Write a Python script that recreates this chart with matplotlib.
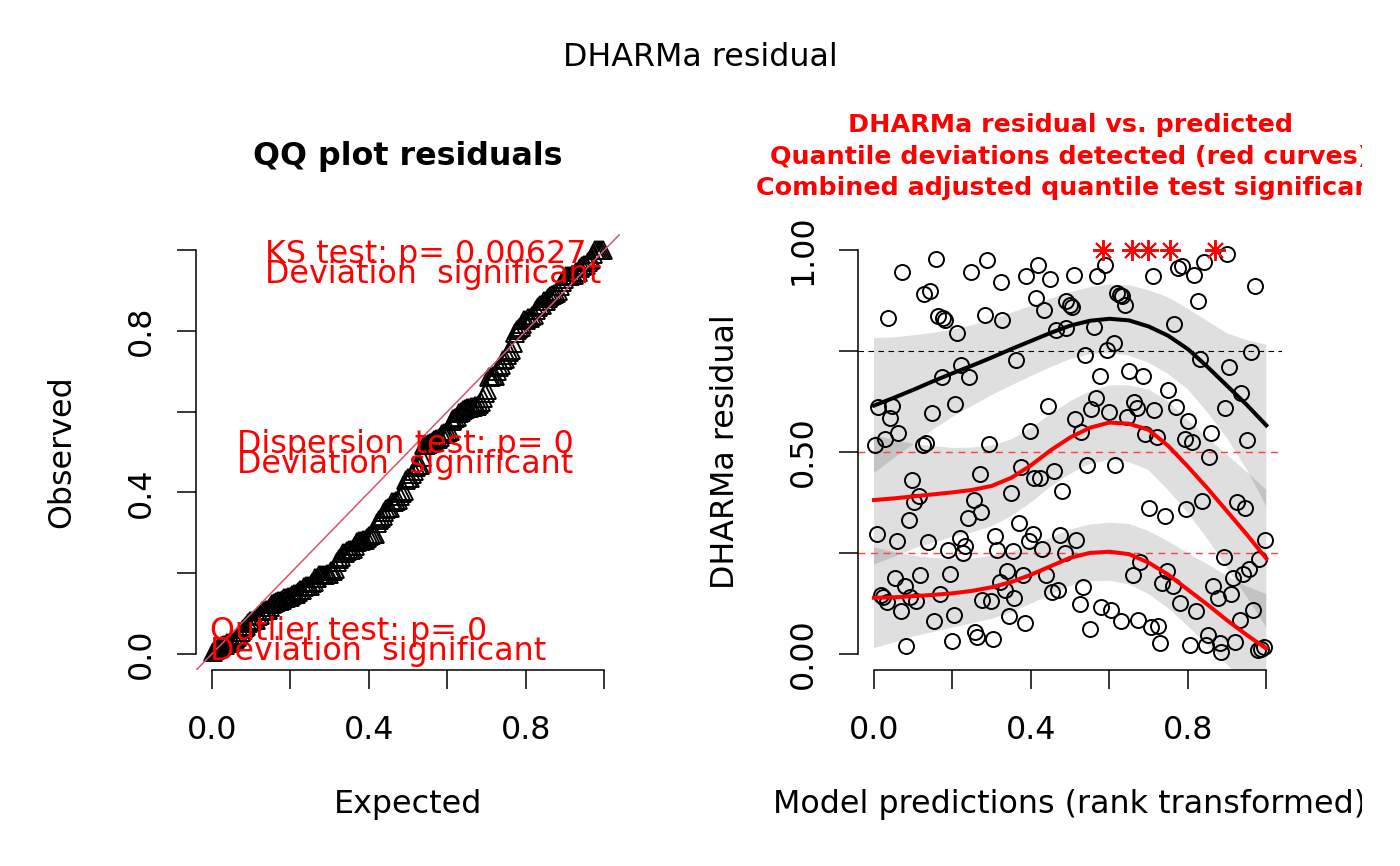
import numpy as np
import matplotlib
matplotlib.use("Agg")
import matplotlib.pyplot as plt
from matplotlib.transforms import Bbox, TransformedBbox

# residuals vs rank transformed predictions
pred_rank = [
    0.072, 0.157, 0.036, 0.127, 0.143, 0.162, 0.176, 0.182, 0.212, 0.248,
    0.288, 0.323, 0.282, 0.327, 0.388, 0.419, 0.448, 0.414, 0.433, 0.489,
    0.499, 0.504, 0.464, 0.489, 0.363, 0.222, 0.173, 0.242, 0.010, 0.047,
    0.042, 0.061, 0.027, 0.002, 0.148, 0.207, 0.125, 0.133, 0.293, 0.398,
    0.443,
    0.510, 0.569, 0.589, 0.711, 0.775, 0.785, 0.841, 0.900, 0.815, 0.971,
    0.825, 0.620, 0.626, 0.632, 0.640, 0.560, 0.764, 0.611, 0.594, 0.539,
    0.830, 0.960, 0.905, 0.575, 0.650, 0.685, 0.749, 0.936, 0.565, 0.554,
    0.600, 0.664, 0.671, 0.645, 0.715, 0.770, 0.895, 0.800, 0.513, 0.528,
    0.690, 0.722, 0.792, 0.810, 0.859, 0.950,
    0.098, 0.114, 0.102, 0.088, 0.008, 0.058, 0.138, 0.269, 0.374, 0.408,
    0.422, 0.459, 0.479, 0.348, 0.254, 0.273, 0.239, 0.369, 0.309, 0.218,
    0.233, 0.227, 0.189, 0.314, 0.354, 0.405, 0.394, 0.429, 0.473, 0.486,
    0.514, 0.053, 0.078, 0.118, 0.023, 0.017, 0.034, 0.091, 0.108, 0.068,
    0.167, 0.193, 0.153, 0.203, 0.082, 0.199, 0.257, 0.263, 0.303, 0.275,
    0.297, 0.320, 0.339, 0.333, 0.358, 0.380, 0.344, 0.384, 0.439, 0.454,
    0.469,
    0.543, 0.615, 0.855, 0.700, 0.741, 0.796, 0.836, 0.926, 0.946, 0.997,
    0.891, 0.981, 0.957, 0.940, 0.915, 0.679, 0.660, 0.746, 0.735, 0.762,
    0.865, 0.876, 0.910, 0.781, 0.821, 0.532, 0.524, 0.579, 0.605, 0.630,
    0.550, 0.674, 0.705, 0.725, 0.730, 0.806, 0.851, 0.847, 0.881, 0.885,
    0.921, 0.932, 0.966, 0.978, 0.987, 0.994,
]
resid = [
    0.945, 0.978, 0.831, 0.891, 0.899, 0.836, 0.832, 0.828, 0.795, 0.947,
    0.975, 0.922, 0.839, 0.827, 0.936, 0.963, 0.928, 0.881, 0.851, 0.874,
    0.864, 0.859, 0.803, 0.806, 0.728, 0.716, 0.686, 0.686, 0.611, 0.615,
    0.583, 0.547, 0.532, 0.517, 0.597, 0.619, 0.518, 0.522, 0.520, 0.553,
    0.615,
    0.939, 0.936, 0.963, 0.936, 0.957, 0.960, 0.970, 0.990, 0.939, 0.912,
    0.873, 0.893, 0.889, 0.886, 0.864, 0.810, 0.817, 0.770, 0.753, 0.741,
    0.730, 0.747, 0.710, 0.689, 0.700, 0.689, 0.653, 0.646, 0.635, 0.606,
    0.600, 0.625, 0.609, 0.587, 0.604, 0.612, 0.608, 0.578, 0.582, 0.549,
    0.545, 0.536, 0.532, 0.526, 0.546, 0.530,
    0.431, 0.391, 0.377, 0.332, 0.297, 0.280, 0.278, 0.446, 0.464, 0.435,
    0.435, 0.454, 0.404, 0.399, 0.380, 0.352, 0.337, 0.325, 0.292, 0.288,
    0.267, 0.249, 0.257, 0.257, 0.255, 0.297, 0.280, 0.259, 0.295, 0.249,
    0.283, 0.189, 0.167, 0.196, 0.142, 0.146, 0.129, 0.142, 0.132, 0.106,
    0.149, 0.198, 0.082, 0.097, 0.020, 0.033, 0.053, 0.041, 0.037, 0.134,
    0.132, 0.179, 0.206, 0.157, 0.139, 0.196, 0.094, 0.076, 0.196, 0.152,
    0.158,
    0.468, 0.468, 0.488, 0.361, 0.342, 0.359, 0.379, 0.375, 0.361, 0.282,
    0.241, 0.234, 0.210, 0.198, 0.189, 0.228, 0.196, 0.206, 0.176, 0.169,
    0.168, 0.139, 0.149, 0.125, 0.105, 0.165, 0.123, 0.115, 0.109, 0.082,
    0.062, 0.084, 0.066, 0.069, 0.026, 0.022, 0.047, 0.022, 0.026, 0.004,
    0.029, 0.084, 0.109, 0.010, 0.012, 0.017,
]
# simulation outliers (residual == 1), shown as red stars
out_pred = [0.583, 0.657, 0.698, 0.754, 0.869]
out_resid = [1.0, 1.0, 1.0, 1.0, 1.0]

# quantile regression fits and their standard errors
curve_x = [0.00, 0.05, 0.10, 0.15, 0.20, 0.25, 0.30, 0.35, 0.40, 0.45, 0.50,
           0.55, 0.60, 0.65, 0.70, 0.75, 0.80, 0.85, 0.90, 0.95, 1.00]
q75_fit = [0.615, 0.634, 0.654, 0.675, 0.695, 0.714, 0.734, 0.755, 0.775, 0.795, 0.813,
           0.825, 0.830, 0.826, 0.811, 0.788, 0.755, 0.711, 0.664, 0.617, 0.566]
q50_fit = [0.381, 0.385, 0.390, 0.395, 0.400, 0.406, 0.416, 0.436, 0.467, 0.504, 0.536,
           0.560, 0.573, 0.570, 0.555, 0.515, 0.464, 0.410, 0.353, 0.296, 0.236]
q25_fit = [0.139, 0.140, 0.143, 0.146, 0.150, 0.156, 0.165, 0.178, 0.196, 0.217, 0.238,
           0.250, 0.253, 0.247, 0.226, 0.196, 0.159, 0.122, 0.083, 0.047, 0.013]
q75_se = [0.167, 0.150, 0.135, 0.120, 0.108, 0.100, 0.093, 0.090, 0.087, 0.085, 0.083,
          0.083, 0.085, 0.087, 0.090, 0.095, 0.100, 0.113, 0.130, 0.160, 0.200]
q50_se = [0.160, 0.145, 0.130, 0.120, 0.110, 0.105, 0.100, 0.095, 0.092, 0.090, 0.090,
          0.090, 0.092, 0.095, 0.100, 0.110, 0.115, 0.125, 0.140, 0.155, 0.170]
q25_se = [0.125, 0.112, 0.100, 0.092, 0.085, 0.080, 0.078, 0.075, 0.072, 0.070, 0.070,
          0.070, 0.072, 0.075, 0.078, 0.083, 0.090, 0.100, 0.110, 0.120, 0.135]

qq_texts = [
    ("KS test: p= 0.00627", "Deviation  significant"),
    ("Dispersion test: p= 0", "Deviation  significant"),
    ("Outlier test: p= 0", "Deviation  significant"),
]
right_title = [
    "DHARMa residual vs. predicted",
    "Quantile deviations detected (red curves)",
    "Combined adjusted quantile test significant",
]

FS = 22.9
W, H = 1400, 866

fig = plt.figure(figsize=(W / 100, H / 100), dpi=100)
fig.patch.set_facecolor("white")


def r_style(ax, yticks, ylabels):
    ax.set_xlim(-0.04, 1.04)
    ax.set_ylim(-0.04, 1.04)
    ax.patch.set_visible(False)
    for s in ["top", "right"]:
        ax.spines[s].set_visible(False)
    for s in ["left", "bottom"]:
        ax.spines[s].set_linewidth(1.1)
        ax.spines[s].set_bounds(0, 1)
    ax.set_xticks([0, 0.2, 0.4, 0.6, 0.8, 1.0])
    ax.set_xticklabels(["0.0", "", "0.4", "", "0.8", ""])
    ax.set_yticks(yticks)
    ax.set_yticklabels(ylabels, rotation=90, va="center")
    ax.tick_params(axis="both", length=13.7, width=1.1, labelsize=FS)
    ax.tick_params(axis="x", pad=19)
    ax.tick_params(axis="y", pad=15)


# ---- left panel: QQ plot
ax1 = fig.add_axes([196.3 / W, (H - 670) / H, 423.7 / W, 436 / H])
r_style(ax1, [0, 0.2, 0.4, 0.6, 0.8, 1.0], ["0.0", "", "0.4", "", "0.8", ""])

observed = np.sort(np.array(resid + out_resid))
n = len(observed)
expected = (np.arange(1, n + 1) - 0.5) / n
ax1.plot(expected, observed, ls="none", marker="^", ms=13.5, mfc="none",
         mec="black", mew=1.35)
ax1.axline((0, 0), slope=1, color="#DF536B", lw=1.1)

qq_pos = [(0.135, 0.967, 0.918), (0.063, 0.498, 0.447), (-0.005, 0.035, -0.015)]
for (t1, t2), (tx, ty1, ty2) in zip(qq_texts, qq_pos):
    ax1.text(tx, ty1, t1, color="red", fontsize=FS, ha="left", va="baseline")
    ax1.text(tx, ty2, t2, color="red", fontsize=FS, ha="left", va="baseline")

# ---- right panel: residual vs predicted
ax2 = fig.add_axes([858.3 / W, (H - 670) / H, 423.7 / W, 436 / H])
r_style(ax2, [0, 0.25, 0.5, 0.75, 1.0], ["0.00", "", "0.50", "", "1.00"])

cx = np.array(curve_x)
for fit, se in [(q25_fit, q25_se), (q50_fit, q50_se), (q75_fit, q75_se)]:
    fit = np.array(fit)
    se = np.array(se)
    ax2.fill_between(cx, fit - se, fit + se, facecolor=(0, 0, 0, 0.125), lw=0)

ax2.axhline(0.25, color="#FF4040", lw=1.0, ls=(0, (5, 4)))
ax2.axhline(0.50, color="#FF4040", lw=1.0, ls=(0, (5, 4)))
ax2.axhline(0.75, color="black", lw=0.8, ls=(0, (5, 4)))

ax2.plot(pred_rank, resid, ls="none", marker="o", ms=10.8, mfc="none",
         mec="black", mew=1.4)
ax2.plot(cx, q25_fit, color="red", lw=2.9)
ax2.plot(cx, q50_fit, color="red", lw=2.9)
ax2.plot(cx, q75_fit, color="black", lw=2.9)
ax2.plot(out_pred, out_resid, ls="none", marker=(8, 2, 0), ms=15, mec="red",
         mew=1.4, clip_on=False)

# ---- titles and axis labels
clip = TransformedBbox(Bbox.from_extents(0, 0, 1362 / W, 1), fig.transFigure)


def ftext(px, py, s, clipped=False, **kw):
    t = fig.text(px / W, 1 - py / H, s, ha="center", va="center", **kw)
    if clipped:
        t.set_clip_box(clip)
        t.set_clip_on(True)
    return t


ftext(700, 58, "DHARMa residual", fontsize=FS)
ftext(408, 157, "QQ plot residuals", fontsize=FS, weight="bold")
for i, line in enumerate(right_title):
    ftext(1070, 125 + i * 31.5, line, clipped=True, fontsize=18.3,
          weight="bold", color="red")

ftext(408, 805, "Expected", fontsize=FS)
ftext(62, 452, "Observed", fontsize=FS, rotation=90)
ftext(725, 452, "DHARMa residual", fontsize=FS, rotation=90)
ftext(1070, 805, "Model predictions (rank transformed)", clipped=True, fontsize=FS)

fig.savefig("out.png", dpi=100)
